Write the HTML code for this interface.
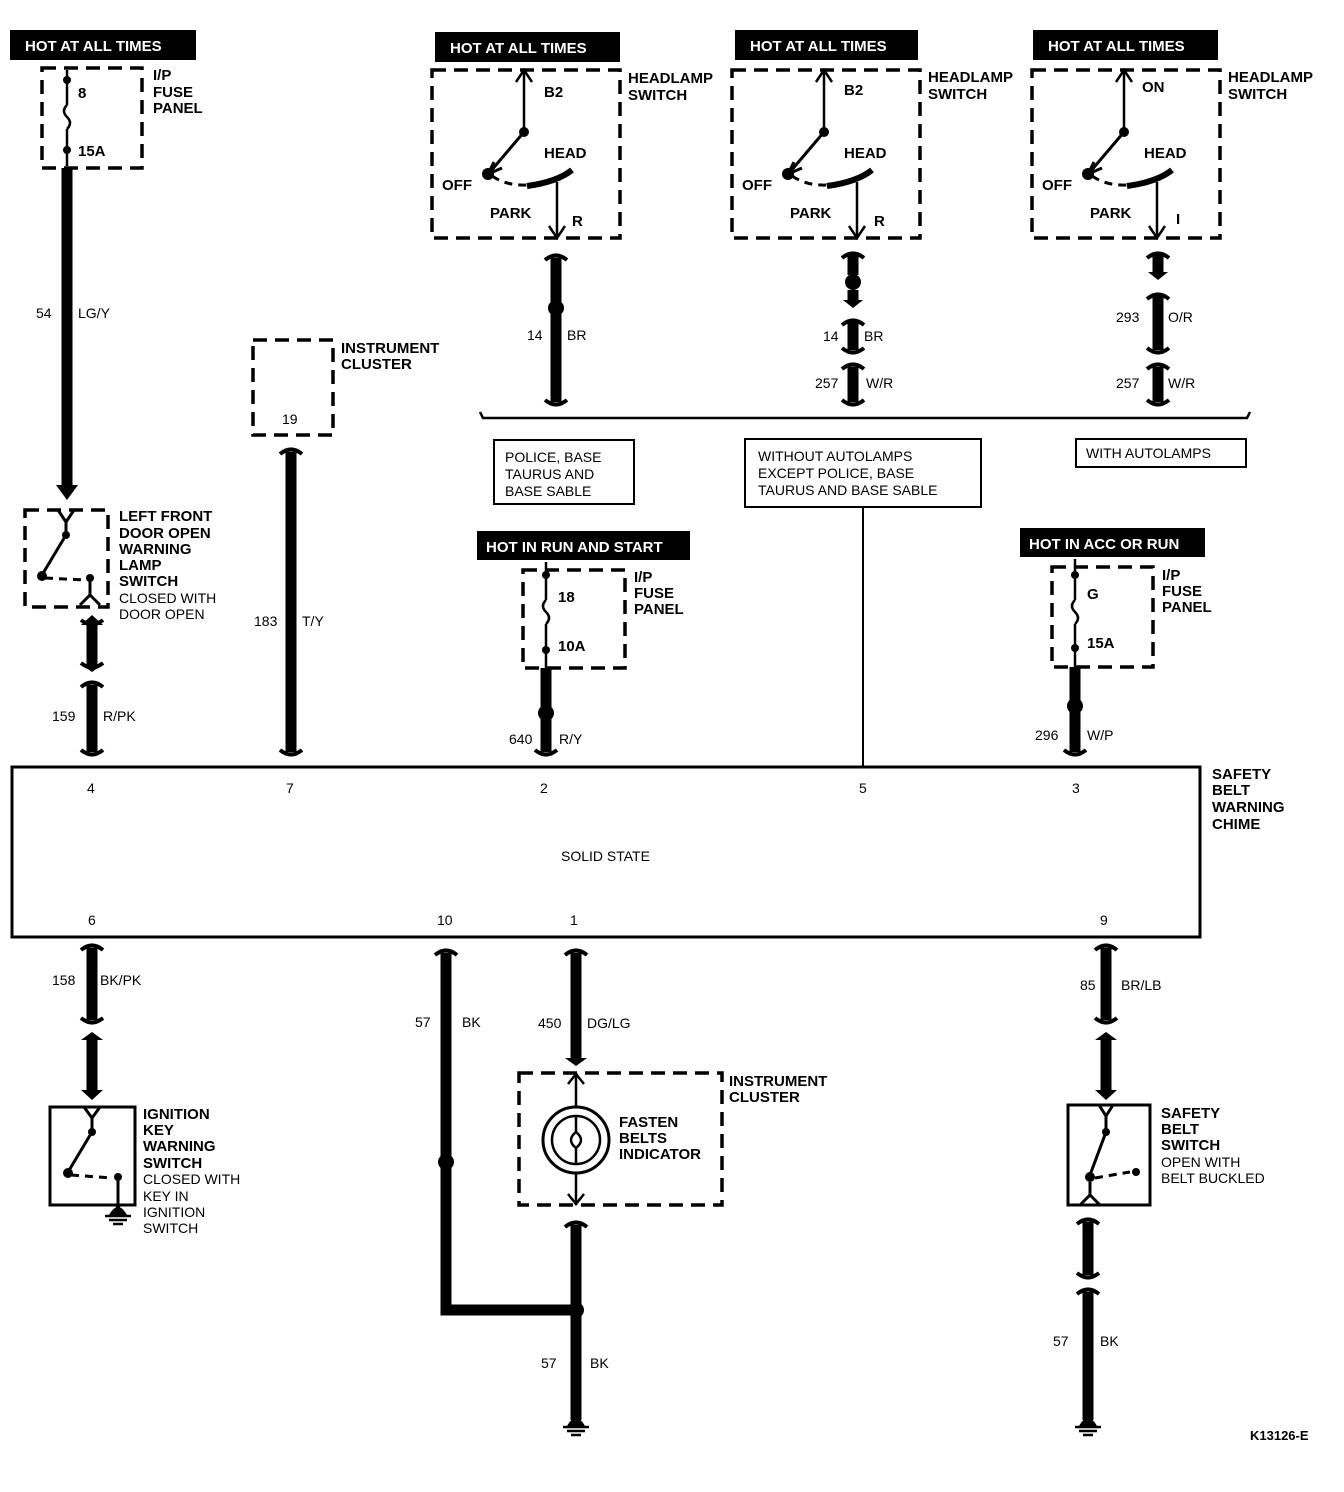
<!DOCTYPE html>
<html><head><meta charset="utf-8"><style>
html,body{margin:0;padding:0;background:#fff}
svg{display:block}
text{font-family:"Liberation Sans",Arial,sans-serif;fill:#000}
.b{font-weight:bold;font-size:15px}
.n{font-size:14px}
.w{fill:#fff;font-weight:bold;font-size:15px}
</style></head><body>
<svg width="1344" height="1492" viewBox="0 0 1344 1492" xmlns="http://www.w3.org/2000/svg">
<defs>
<g id="capT"><path d="M-11,-5 Q0,4 11,-5" fill="none" stroke="#000" stroke-width="4"/></g>
<g id="capB"><path d="M-11,5 Q0,-4 11,5" fill="none" stroke="#000" stroke-width="4"/></g>
<g id="gnd"><line x1="0" y1="0" x2="0" y2="8" stroke="#000" stroke-width="4"/><path d="M-9,10 Q0,-6 9,10 Z" fill="#000"/><line x1="-13" y1="11" x2="13" y2="11" stroke="#000" stroke-width="2.5"/><line x1="-9" y1="15" x2="9" y2="15" stroke="#000" stroke-width="2.5"/><line x1="-5" y1="19" x2="5" y2="19" stroke="#000" stroke-width="2.5"/></g>
<g id="hsw">
<rect x="0" y="0" width="188" height="168" fill="none" stroke="#000" stroke-width="3.5" stroke-dasharray="14,8"/>
<line x1="92" y1="2" x2="92" y2="62" stroke="#000" stroke-width="2.5"/>
<path d="M84,12 L92,0 L100,12" fill="none" stroke="#000" stroke-width="2.5"/>
<circle cx="92" cy="62" r="5"/>
<line x1="92" y1="62" x2="58" y2="102" stroke="#000" stroke-width="3"/>
<path d="M62,92 L56,104 L70,98" fill="none" stroke="#000" stroke-width="3"/>
<circle cx="56" cy="104" r="6"/>
<path d="M60,106 Q75,116 95,115" fill="none" stroke="#000" stroke-width="3" stroke-dasharray="8,6"/>
<path d="M95,116 Q125,112 140,100" fill="none" stroke="#000" stroke-width="6"/>
<line x1="125" y1="112" x2="125" y2="166" stroke="#000" stroke-width="2.5"/>
<path d="M117,156 L125,168 L133,156" fill="none" stroke="#000" stroke-width="2.5"/>
<text x="112" y="88" class="b">HEAD</text>
<text x="10" y="120" class="b">OFF</text>
<text x="58" y="148" class="b">PARK</text>
</g>
</defs>

<rect x="10" y="30" width="186" height="30"/><text x="25" y="51" class="w">HOT AT ALL TIMES</text>
<rect x="435" y="32" width="185" height="30"/><text x="450" y="53" class="w">HOT AT ALL TIMES</text>
<rect x="735" y="30" width="183" height="30"/><text x="750" y="51" class="w">HOT AT ALL TIMES</text>
<rect x="1033" y="30" width="185" height="30"/><text x="1048" y="51" class="w">HOT AT ALL TIMES</text>
<rect x="477" y="531" width="213" height="29"/><text x="486" y="552" class="w">HOT IN RUN AND START</text>
<rect x="1020" y="528" width="185" height="29"/><text x="1029" y="549" class="w">HOT IN ACC OR RUN</text>

<rect x="42" y="68" width="100" height="100" fill="none" stroke="#000" stroke-width="3.5" stroke-dasharray="14,8"/>
<line x1="67" y1="70" x2="67" y2="105" stroke="#000" stroke-width="2.5"/>
<path d="M67,105 q-6,6 0,12 q6,6 0,12" fill="none" stroke="#000" stroke-width="2.5"/>
<line x1="67" y1="129" x2="67" y2="166" stroke="#000" stroke-width="2.5"/>
<circle cx="67" cy="80" r="4"/><circle cx="67" cy="150" r="4"/>
<text x="78" y="98" class="b">8</text><text x="78" y="156" class="b">15A</text>
<text x="153" y="80" class="b">I/P</text><text x="153" y="97" class="b">FUSE</text><text x="153" y="113" class="b">PANEL</text>

<line x1="67" y1="168" x2="67" y2="490" stroke="#000" stroke-width="11"/>
<path d="M56,485 L67,500 L78,485 Z"/>
<text x="36" y="318" class="n">54</text><text x="78" y="318" class="n">LG/Y</text>

<rect x="25" y="510" width="83" height="97" fill="none" stroke="#000" stroke-width="3.5" stroke-dasharray="14,8"/>
<path d="M58,510 L66,522 L74,510 M66,522 L66,535" fill="none" stroke="#000" stroke-width="3"/>
<line x1="66" y1="535" x2="42" y2="575" stroke="#000" stroke-width="3"/>
<circle cx="66" cy="535" r="4"/><circle cx="42" cy="576" r="5"/>
<path d="M45,578 L85,580" stroke="#000" stroke-width="3" stroke-dasharray="8,6"/>
<circle cx="90" cy="578" r="4"/>
<path d="M90,578 L90,595 M80,605 L90,595 L100,605" fill="none" stroke="#000" stroke-width="3"/>
<text x="119" y="521" class="b">LEFT FRONT</text><text x="119" y="538" class="b">DOOR OPEN</text><text x="119" y="554" class="b">WARNING</text><text x="119" y="570" class="b">LAMP</text><text x="119" y="586" class="b">SWITCH</text>
<text x="119" y="603" class="n">CLOSED WITH</text><text x="119" y="619" class="n">DOOR OPEN</text>
<line x1="92" y1="625" x2="92" y2="665" stroke="#000" stroke-width="11"/>
<use href="#capT" x="92" y="625"/><use href="#capT" x="92" y="668"/>
<path d="M81,625 L92,615 L103,625 Z"/><path d="M81,664 L92,672 L103,664 Z"/>
<line x1="92" y1="685" x2="92" y2="752" stroke="#000" stroke-width="11"/>
<use href="#capB" x="92" y="682"/><use href="#capT" x="92" y="755"/>
<text x="52" y="721" class="n">159</text><text x="103" y="721" class="n">R/PK</text>

<rect x="253" y="340" width="80" height="95" fill="none" stroke="#000" stroke-width="3.5" stroke-dasharray="14,8"/>
<text x="282" y="424" class="n">19</text>
<text x="341" y="353" class="b">INSTRUMENT</text><text x="341" y="369" class="b">CLUSTER</text>
<line x1="291" y1="452" x2="291" y2="752" stroke="#000" stroke-width="11"/>
<use href="#capB" x="291" y="449"/><use href="#capT" x="291" y="755"/>
<text x="254" y="626" class="n">183</text><text x="302" y="626" class="n">T/Y</text>

<use href="#hsw" x="432" y="70"/>
<text x="544" y="97" class="b">B2</text><text x="572" y="226" class="b">R</text>
<text x="628" y="83" class="b">HEADLAMP</text><text x="628" y="100" class="b">SWITCH</text>
<use href="#hsw" x="732" y="70"/>
<text x="844" y="95" class="b">B2</text><text x="874" y="226" class="b">R</text>
<text x="928" y="82" class="b">HEADLAMP</text><text x="928" y="99" class="b">SWITCH</text>
<use href="#hsw" x="1032" y="70"/>
<text x="1142" y="92" class="b">ON</text><text x="1176" y="224" class="b">I</text>
<text x="1228" y="82" class="b">HEADLAMP</text><text x="1228" y="99" class="b">SWITCH</text>

<line x1="556" y1="258" x2="556" y2="402" stroke="#000" stroke-width="11"/>
<use href="#capB" x="556" y="255"/><use href="#capT" x="556" y="405"/>
<circle cx="556" cy="308" r="8"/>
<text x="527" y="340" class="n">14</text><text x="567" y="340" class="n">BR</text>
<line x1="853" y1="255" x2="853" y2="275" stroke="#000" stroke-width="11"/>
<use href="#capB" x="853" y="253"/><circle cx="853" cy="282" r="8"/>
<line x1="853" y1="290" x2="853" y2="302" stroke="#000" stroke-width="11"/><path d="M843,300 L853,308 L863,300 Z"/>
<line x1="853" y1="322" x2="853" y2="350" stroke="#000" stroke-width="11"/>
<use href="#capB" x="853" y="320"/><use href="#capT" x="853" y="353"/>
<line x1="853" y1="367" x2="853" y2="402" stroke="#000" stroke-width="11"/>
<use href="#capB" x="853" y="364"/><use href="#capT" x="853" y="405"/>
<text x="823" y="341" class="n">14</text><text x="864" y="341" class="n">BR</text>
<text x="815" y="388" class="n">257</text><text x="866" y="388" class="n">W/R</text>
<line x1="1158" y1="255" x2="1158" y2="275" stroke="#000" stroke-width="11"/>
<use href="#capB" x="1158" y="253"/><path d="M1148,272 L1158,280 L1168,272 Z"/>
<line x1="1158" y1="296" x2="1158" y2="350" stroke="#000" stroke-width="11"/>
<use href="#capB" x="1158" y="294"/><use href="#capT" x="1158" y="353"/>
<line x1="1158" y1="367" x2="1158" y2="402" stroke="#000" stroke-width="11"/>
<use href="#capB" x="1158" y="364"/><use href="#capT" x="1158" y="405"/>
<text x="1116" y="322" class="n">293</text><text x="1168" y="322" class="n">O/R</text>
<text x="1116" y="388" class="n">257</text><text x="1168" y="388" class="n">W/R</text>

<path d="M480,412 L483,418 L1247,418 L1250,412" fill="none" stroke="#000" stroke-width="2.5"/>
<rect x="494" y="440" width="140" height="64" fill="#fff" stroke="#000" stroke-width="2"/>
<text x="505" y="462" class="n">POLICE, BASE</text><text x="505" y="479" class="n">TAURUS AND</text><text x="505" y="496" class="n">BASE SABLE</text>
<rect x="745" y="439" width="236" height="68" fill="#fff" stroke="#000" stroke-width="2"/>
<text x="758" y="461" class="n">WITHOUT AUTOLAMPS</text><text x="758" y="478" class="n">EXCEPT POLICE, BASE</text><text x="758" y="495" class="n">TAURUS AND BASE SABLE</text>
<rect x="1076" y="439" width="170" height="28" fill="#fff" stroke="#000" stroke-width="2"/>
<text x="1086" y="458" class="n">WITH AUTOLAMPS</text>
<line x1="863" y1="507" x2="863" y2="767" stroke="#000" stroke-width="2"/>

<rect x="523" y="570" width="102" height="98" fill="none" stroke="#000" stroke-width="3.5" stroke-dasharray="14,8"/>
<line x1="546" y1="562" x2="546" y2="600" stroke="#000" stroke-width="2.5"/>
<path d="M546,600 q-6,6 0,12 q6,6 0,12" fill="none" stroke="#000" stroke-width="2.5"/>
<line x1="546" y1="624" x2="546" y2="668" stroke="#000" stroke-width="2.5"/>
<circle cx="546" cy="575" r="4"/><circle cx="546" cy="650" r="4"/>
<text x="558" y="602" class="b">18</text><text x="558" y="651" class="b">10A</text>
<text x="634" y="582" class="b">I/P</text><text x="634" y="598" class="b">FUSE</text><text x="634" y="614" class="b">PANEL</text>
<line x1="546" y1="668" x2="546" y2="752" stroke="#000" stroke-width="11"/>
<circle cx="546" cy="713" r="8"/><use href="#capT" x="546" y="755"/>
<text x="509" y="744" class="n">640</text><text x="559" y="744" class="n">R/Y</text>

<rect x="1052" y="567" width="101" height="100" fill="none" stroke="#000" stroke-width="3.5" stroke-dasharray="14,8"/>
<line x1="1075" y1="559" x2="1075" y2="600" stroke="#000" stroke-width="2.5"/>
<path d="M1075,600 q-6,6 0,12 q6,6 0,12" fill="none" stroke="#000" stroke-width="2.5"/>
<line x1="1075" y1="624" x2="1075" y2="667" stroke="#000" stroke-width="2.5"/>
<circle cx="1075" cy="575" r="4"/><circle cx="1075" cy="648" r="4"/>
<text x="1087" y="599" class="b">G</text><text x="1087" y="648" class="b">15A</text>
<text x="1162" y="580" class="b">I/P</text><text x="1162" y="596" class="b">FUSE</text><text x="1162" y="612" class="b">PANEL</text>
<line x1="1075" y1="667" x2="1075" y2="752" stroke="#000" stroke-width="11"/>
<circle cx="1075" cy="706" r="8"/><use href="#capT" x="1075" y="755"/>
<text x="1035" y="740" class="n">296</text><text x="1087" y="740" class="n">W/P</text>

<rect x="12" y="767" width="1188" height="170" fill="none" stroke="#000" stroke-width="3"/>
<text x="87" y="793" class="n">4</text><text x="286" y="793" class="n">7</text><text x="540" y="793" class="n">2</text><text x="859" y="793" class="n">5</text><text x="1072" y="793" class="n">3</text>
<text x="561" y="861" class="n">SOLID STATE</text>
<text x="88" y="925" class="n">6</text><text x="437" y="925" class="n">10</text><text x="570" y="925" class="n">1</text><text x="1100" y="925" class="n">9</text>
<text x="1212" y="779" class="b">SAFETY</text><text x="1212" y="795" class="b">BELT</text><text x="1212" y="812" class="b">WARNING</text><text x="1212" y="829" class="b">CHIME</text>

<line x1="92" y1="948" x2="92" y2="1020" stroke="#000" stroke-width="11"/>
<use href="#capB" x="92" y="945"/><use href="#capT" x="92" y="1023"/>
<path d="M81,1040 L92,1032 L103,1040 Z"/>
<line x1="92" y1="1040" x2="92" y2="1090" stroke="#000" stroke-width="11"/>
<path d="M81,1090 L92,1100 L103,1090 Z"/>
<text x="52" y="985" class="n">158</text><text x="100" y="985" class="n">BK/PK</text>
<rect x="50" y="1107" width="85" height="98" fill="none" stroke="#000" stroke-width="3"/>
<path d="M84,1107 L92,1118 L100,1107 M92,1118 L92,1132" fill="none" stroke="#000" stroke-width="3"/>
<line x1="92" y1="1132" x2="68" y2="1172" stroke="#000" stroke-width="3"/>
<circle cx="92" cy="1132" r="4"/><circle cx="68" cy="1173" r="5"/>
<path d="M71,1175 L112,1178" stroke="#000" stroke-width="3" stroke-dasharray="8,6"/>
<circle cx="118" cy="1177" r="4"/>
<line x1="118" y1="1177" x2="118" y2="1210" stroke="#000" stroke-width="3"/>
<use href="#gnd" x="118" y="1205"/>
<text x="143" y="1119" class="b">IGNITION</text><text x="143" y="1135" class="b">KEY</text><text x="143" y="1151" class="b">WARNING</text><text x="143" y="1168" class="b">SWITCH</text>
<text x="143" y="1184" class="n">CLOSED WITH</text><text x="143" y="1201" class="n">KEY IN</text><text x="143" y="1217" class="n">IGNITION</text><text x="143" y="1233" class="n">SWITCH</text>

<path d="M446,953 L446,1310 L576,1310" fill="none" stroke="#000" stroke-width="11"/>
<use href="#capB" x="446" y="950"/><circle cx="446" cy="1162" r="8"/>
<text x="415" y="1027" class="n">57</text><text x="462" y="1027" class="n">BK</text>

<line x1="576" y1="953" x2="576" y2="1060" stroke="#000" stroke-width="11"/>
<use href="#capB" x="576" y="950"/><path d="M565,1058 L576,1066 L587,1058 Z"/>
<text x="538" y="1028" class="n">450</text><text x="587" y="1028" class="n">DG/LG</text>
<rect x="519" y="1073" width="203" height="132" fill="none" stroke="#000" stroke-width="3.5" stroke-dasharray="14,8"/>
<line x1="576" y1="1073" x2="576" y2="1205" stroke="#000" stroke-width="2.5"/>
<path d="M568,1084 L576,1074 L584,1084 M568,1194 L576,1204 L584,1194" fill="none" stroke="#000" stroke-width="2.5"/>
<circle cx="576" cy="1140" r="33" fill="#fff" stroke="#000" stroke-width="3"/>
<circle cx="576" cy="1140" r="24" fill="none" stroke="#000" stroke-width="2.5"/>
<path d="M576,1116 L576,1132 Q566,1140 576,1148 L576,1164 M576,1132 Q586,1140 576,1148" fill="none" stroke="#000" stroke-width="2.5"/>
<text x="619" y="1127" class="b">FASTEN</text><text x="619" y="1143" class="b">BELTS</text><text x="619" y="1159" class="b">INDICATOR</text>
<text x="729" y="1086" class="b">INSTRUMENT</text><text x="729" y="1102" class="b">CLUSTER</text>
<line x1="576" y1="1225" x2="576" y2="1420" stroke="#000" stroke-width="11"/>
<use href="#capB" x="576" y="1222"/><circle cx="576" cy="1310" r="8"/>
<text x="541" y="1368" class="n">57</text><text x="590" y="1368" class="n">BK</text>
<use href="#gnd" x="576" y="1416"/>

<line x1="1106" y1="948" x2="1106" y2="1020" stroke="#000" stroke-width="11"/>
<use href="#capB" x="1106" y="945"/><use href="#capT" x="1106" y="1023"/>
<path d="M1095,1040 L1106,1032 L1117,1040 Z"/>
<line x1="1106" y1="1040" x2="1106" y2="1090" stroke="#000" stroke-width="11"/>
<path d="M1095,1090 L1106,1100 L1117,1090 Z"/>
<text x="1080" y="990" class="n">85</text><text x="1121" y="990" class="n">BR/LB</text>
<rect x="1068" y="1105" width="82" height="100" fill="none" stroke="#000" stroke-width="3"/>
<path d="M1099,1105 L1106,1116 L1113,1105 M1106,1116 L1106,1132" fill="none" stroke="#000" stroke-width="3"/>
<line x1="1106" y1="1132" x2="1090" y2="1175" stroke="#000" stroke-width="3"/>
<circle cx="1106" cy="1132" r="4"/><circle cx="1090" cy="1177" r="5"/>
<path d="M1095,1178 L1130,1172" stroke="#000" stroke-width="3" stroke-dasharray="8,6"/>
<circle cx="1136" cy="1172" r="4"/>
<path d="M1090,1182 L1090,1195 M1080,1205 L1090,1195 L1100,1205" fill="none" stroke="#000" stroke-width="3"/>
<text x="1161" y="1118" class="b">SAFETY</text><text x="1161" y="1134" class="b">BELT</text><text x="1161" y="1150" class="b">SWITCH</text>
<text x="1161" y="1167" class="n">OPEN WITH</text><text x="1161" y="1183" class="n">BELT BUCKLED</text>
<line x1="1088" y1="1222" x2="1088" y2="1275" stroke="#000" stroke-width="11"/>
<use href="#capB" x="1088" y="1219"/><use href="#capT" x="1088" y="1278"/>
<line x1="1088" y1="1292" x2="1088" y2="1420" stroke="#000" stroke-width="11"/>
<use href="#capB" x="1088" y="1289"/>
<text x="1053" y="1346" class="n">57</text><text x="1100" y="1346" class="n">BK</text>
<use href="#gnd" x="1088" y="1416"/>

<text x="1250" y="1440" class="b" style="font-size:13px">K13126-E</text>
</svg>
</body></html>
